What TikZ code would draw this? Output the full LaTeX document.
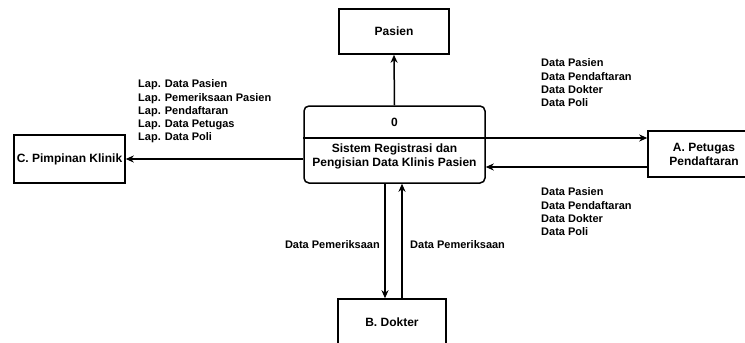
\documentclass[tikz,border=0pt]{standalone}
\usepackage{fontspec}
\setmainfont{Liberation Sans}
\usepackage{tikz}
\usetikzlibrary{arrows.meta}

\begin{document}
\begin{tikzpicture}[x=1pt,y=1pt]
\tikzstyle{every node}+=[inner sep=0pt, font=\fontsize{12}{14}\selectfont\bfseries]
\tikzstyle{entity}=[draw, line width=1.5pt, align=center]
\tikzstyle{flow}=[draw, line width=1.5pt, -{Stealth[length=8pt,width=7pt,inset=2.5pt]}]
\tikzstyle{flowlabel}=[align=left, font=\fontsize{11}{13.3}\selectfont\bfseries]
\useasboundingbox (0,0) rectangle (745,-343);
% entities
\node [entity, minimum width=110pt, minimum height=45pt] (pasien) at (394,-31.5) {Pasien};
\node [entity, minimum width=111pt, minimum height=48pt] (pimpinan) at (69.5,-159) {C. Pimpinan Klinik};
\node [entity, minimum width=112pt, minimum height=46pt] (petugas) at (704,-154) {A. Petugas\\Pendaftaran};
\node [entity, minimum width=108pt, minimum height=46pt] (dokter) at (392,-322) {B. Dokter};
% process
\node [entity, rounded corners=5pt, minimum width=181pt, minimum height=77pt] (proc) at (394.5,-144.5) {};
\node (procnum) at (394.5,-122) {0};
\node [align=center] (procname) at (394.5,-156) {Sistem Registrasi dan\\Pengisian Data Klinis Pasien};
\draw [line width=1.5pt] (proc.west |- 0,-138) -- (proc.east |- 0,-138);
% flows
\draw [flow] (proc.north) -- (pasien.south);
\draw [flow] (proc.west |- pimpinan.east) -- (pimpinan.east);
\draw [flow] (proc.east |- 0,-138) -- (petugas.west |- 0,-138);
\draw [flow] (petugas.west |- 0,-167) -- (proc.east |- 0,-167);
\draw [flow] ([xshift=-9.5pt]proc.south) -- ([xshift=-9.5pt]proc.south |- dokter.north);
\draw [flow] ([xshift=7.5pt]proc.south |- dokter.north) -- ([xshift=7.5pt]proc.south);
% labels
\node [flowlabel, anchor=west] (lappim) at (138,-111.5) {Lap. Data Pasien\\Lap. Pemeriksaan Pasien\\Lap. Pendaftaran\\Lap. Data Petugas\\Lap. Data Poli};
\node [flowlabel, anchor=west] (keproc) at (541,-83) {Data Pasien\\Data Pendaftaran\\Data Dokter\\Data Poli};
\node [flowlabel, anchor=west] (kepetugas) at (541,-212) {Data Pasien\\Data Pendaftaran\\Data Dokter\\Data Poli};
\node [flowlabel, anchor=east] (kedokter) at (380,-245) {Data Pemeriksaan};
\node [flowlabel, anchor=west] (dardokter) at (410,-245) {Data Pemeriksaan};
\end{tikzpicture}
\end{document}
